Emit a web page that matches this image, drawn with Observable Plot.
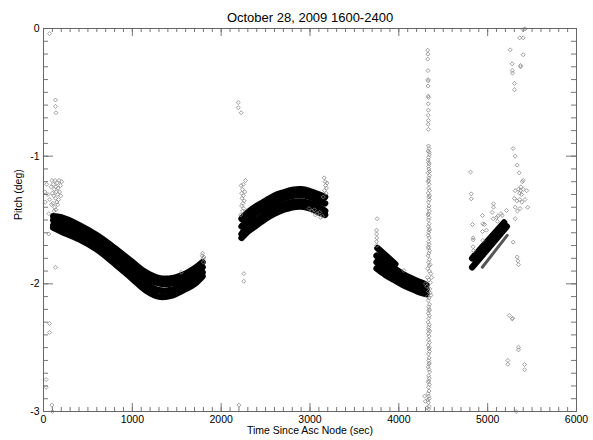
<!DOCTYPE html>
<html><head><meta charset="utf-8">
<script src="https://cdn.jsdelivr.net/npm/d3@7"></script>
<script src="https://cdn.jsdelivr.net/npm/@observablehq/plot@0.6"></script>
<style>body{margin:0;background:#fff} svg{display:block}</style>
</head><body><div id="chart"></div>
<script>
const title = "October 28, 2009 1600-2400";
const xLabel = "Time Since Asc Node (sec)";
const yLabel = "Pitch (deg)";
const xMajorTicks = [0, 1000, 2000, 3000, 4000, 5000, 6000];
const yMajorTicks = [0, -1, -2, -3];
const xTickLabels = ["0", "1000", "2000", "3000", "4000", "5000", "6000"];
const yTickLabels = ["0", "-1", "-2", "-3"];

// dense tracks (bands of overlapping samples)
const seg1TrackA = [[110,-1.47],[200,-1.48],[400,-1.54],[600,-1.62],[800,-1.72],[1000,-1.83],[1150,-1.91],[1300,-1.955],[1450,-1.955],[1600,-1.92],[1700,-1.88],[1790,-1.83]];
const seg1TrackB = [[110,-1.50],[200,-1.52],[400,-1.58],[600,-1.66],[800,-1.76],[1000,-1.87],[1150,-1.95],[1300,-1.995],[1450,-1.995],[1600,-1.96],[1700,-1.92],[1790,-1.87]];
const seg1TrackC = [[110,-1.54],[200,-1.56],[400,-1.62],[600,-1.70],[800,-1.80],[1000,-1.92],[1150,-2.00],[1300,-2.05],[1450,-2.045],[1600,-2.00],[1700,-1.96],[1790,-1.91]];
const seg1TrackD = [[110,-1.56],[200,-1.59],[400,-1.65],[600,-1.73],[800,-1.84],[1000,-1.96],[1150,-2.05],[1300,-2.10],[1450,-2.09],[1600,-2.04],[1700,-2.00],[1790,-1.94]];
const seg2TrackA = [[2230,-1.49],[2300,-1.44],[2400,-1.39],[2500,-1.35],[2600,-1.31],[2700,-1.285],[2800,-1.265],[2900,-1.26],[3000,-1.275],[3100,-1.30],[3170,-1.32]];
const seg2TrackB = [[2230,-1.55],[2300,-1.50],[2400,-1.44],[2500,-1.40],[2600,-1.36],[2700,-1.33],[2800,-1.31],[2900,-1.305],[3000,-1.32],[3100,-1.35],[3170,-1.37]];
const seg2TrackC = [[2230,-1.61],[2300,-1.55],[2400,-1.50],[2500,-1.45],[2600,-1.41],[2700,-1.38],[2800,-1.36],[2900,-1.355],[3000,-1.37],[3100,-1.40],[3170,-1.43]];
const seg2TrackD = [[2230,-1.64],[2300,-1.59],[2400,-1.54],[2500,-1.49],[2600,-1.45],[2700,-1.42],[2800,-1.40],[2900,-1.395],[3000,-1.41],[3100,-1.44],[3170,-1.46]];
const seg3TrackA = [[3750,-1.78],[3850,-1.83],[3950,-1.88],[4050,-1.925],[4150,-1.96],[4250,-1.99],[4310,-2.01]];
const seg3TrackB = [[3750,-1.83],[3850,-1.88],[3950,-1.92],[4050,-1.965],[4150,-2.00],[4250,-2.03],[4310,-2.045]];
const seg3TrackC = [[3750,-1.88],[3850,-1.93],[3950,-1.97],[4050,-2.01],[4150,-2.04],[4250,-2.07],[4310,-2.08]];
const seg3TrackE = [[3760,-1.72],[3960,-1.845]];
const seg4TrackA = [[4826,-1.80],[5185,-1.52]];
const seg4TrackB = [[4826,-1.87],[5215,-1.55]];
const seg4TrackC = [[4940,-1.87],[5220,-1.62]];

// sparse outlier samples
const scatterPoints = [
 [68,-0.04],[135,-0.56],[135,-0.61],[140,-0.66],
 [15,-1.28],[20,-1.36],[35,-1.22],[50,-1.30],[60,-1.45],[70,-1.34],[85,-1.24],[95,-1.19],[100,-1.29],[105,-1.37],[110,-1.22],[115,-1.31],[120,-1.26],[125,-1.40],[130,-1.19],[135,-1.33],[140,-1.24],[145,-1.28],[150,-1.36],[155,-1.21],[160,-1.30],[165,-1.25],[170,-1.34],[175,-1.19],[180,-1.28],[190,-1.23],[195,-1.31],[205,-1.20],[120,-1.43],[140,-1.42],[90,-1.38],[160,-1.38],
 [60,-1.61],[135,-1.87],[68,-2.31],[68,-2.38],[30,-2.75],[30,-2.81],[94,-2.95],[100,-3.0],
 [1550,-1.91],[1786,-1.78],[1792,-1.76],[1798,-1.80],[1805,-1.79],[1800,-1.83],
 [2192,-0.58],[2192,-0.62],[2225,-0.66],
 [2274,-1.19],[2225,-1.23],[2240,-1.26],[2230,-1.29],[2250,-1.31],[2235,-1.33],[2260,-1.35],[2245,-1.37],[2230,-1.39],[2255,-1.41],[2240,-1.43],[2265,-1.28],[2220,-1.46],[2250,-1.22],
 [2255,-1.92],[2255,-1.98],[2200,-2.95],
 [3160,-1.17],[3170,-1.20],[3175,-1.23],[3185,-1.25],[3165,-1.27],[3180,-1.29],[3190,-1.21],[3150,-1.32],
 [2990,-1.41],[3020,-1.43],[3050,-1.42],[3080,-1.45],[3110,-1.44],[3140,-1.47],[3060,-1.46],[3120,-1.48],
 [3756,-1.49],[3749,-1.58],[3749,-1.61],[3752,-1.64],[3749,-1.67],[3752,-1.70],[4056,-1.895],
 [4325,-0.17],[4327,-0.20],[4325,-0.24],[4327,-0.33],[4329,-0.40],[4331,-0.41],[4329,-0.45],[4331,-0.53],[4333,-0.54],[4331,-0.59],[4333,-0.64],[4331,-0.68],[4333,-0.72],[4331,-0.75],[4333,-0.79],
 [4334,-0.92],[4340,-0.94],[4330,-0.96],[4344,-0.99],[4336,-1.01],[4331,-1.03],[4342,-1.06],[4335,-1.08],[4339,-1.10],[4330,-1.13],[4345,-1.15],[4336,-1.17],[4332,-1.20],[4341,-1.22],[4335,-1.25],[4346,-1.27],[4331,-1.29],[4338,-1.32],[4343,-1.34],[4333,-1.36],[4340,-1.39],[4336,-1.41],[4344,-1.43],[4330,-1.46],[4339,-1.48],[4335,-1.50],[4342,-1.53],[4332,-1.55],[4346,-1.57],[4337,-1.60],[4331,-1.62],[4343,-1.64],[4336,-1.67],[4340,-1.69],[4333,-1.71],[4347,-1.74],[4338,-1.76],[4330,-1.78],[4344,-1.81],[4335,-1.83],[4352,-1.85],[4325,-1.88],[4345,-1.90],[4360,-1.92],[4320,-1.95],[4338,-1.97],[4355,-1.99],[4315,-2.02],[4348,-2.04],[4333,-2.06],[4362,-2.09],[4340,-2.11],[4330,-2.13],[4346,-2.16],[4336,-2.18],[4342,-2.20],[4332,-2.23],[4345,-2.25],[4338,-2.27],[4331,-2.30],[4343,-2.32],[4336,-2.34],[4347,-2.37],[4333,-2.39],[4340,-2.41],[4335,-2.44],[4344,-2.46],[4331,-2.48],[4339,-2.51],[4346,-2.53],[4334,-2.55],[4341,-2.58],[4336,-2.60],[4344,-2.62],[4332,-2.65],[4339,-2.67],[4347,-2.69],[4335,-2.72],[4342,-2.74],[4337,-2.76],[4345,-2.79],[4333,-2.81],[4340,-2.84],[4328,-2.86],[4336,-2.88],[4325,-2.91],[4332,-2.93],[4340,-2.96],[4335,-2.98],
 [4342,-0.97],[4335,-1.05],[4345,-1.12],[4334,-1.19],[4347,-1.31],[4333,-1.45],[4341,-1.58],[4334,-1.72],[4342,-1.86],[4370,-1.95],[4300,-2.00],[4352,-2.07],[4325,-2.10],[4340,-2.21],[4334,-2.36],[4344,-2.50],[4338,-2.63],[4332,-2.77],[4341,-2.90],[4318,-2.97],[4290,-2.88],[4298,-2.92],
 [4807,-1.125],[4815,-1.295],[4815,-1.334],[4829,-1.535],[4837,-1.64],[4837,-1.655],[4837,-1.71],[4842,-1.74],[4942,-1.465],[4946,-1.53],[4964,-1.535],[4942,-1.59],[4987,-1.58],[4946,-1.66],[5066,-1.373],[5065,-1.40],[5051,-1.44],[5062,-1.49],[5100,-1.48],[5110,-1.51],[5114,-1.47],[5150,-1.45],[5163,-1.465],[5212,-1.425],[5287,-1.674],[5332,-1.79],[5340,-1.82],[5347,-1.85],[5242,-2.248],[5276,-2.274],[5282,-2.27],[5227,-2.60],[5227,-2.63],[5347,-2.496],[5347,-2.517],[5415,-2.632],[5415,-2.673],[5320,-3.0],
 [5287,-0.94],[5310,-1.00],[5332,-1.07],[5355,-1.13],[5400,-1.19],[5390,-1.20],[5310,-1.27],[5345,-1.26],[5370,-1.27],[5400,-1.26],[5440,-1.27],[5300,-1.33],[5330,-1.35],[5360,-1.34],[5385,-1.36],[5420,-1.34],[5310,-1.40],[5335,-1.43],[5365,-1.41],[5450,-1.40],[5310,-1.49],[5380,-1.30],[5360,-1.29],[5375,-1.24],
 [5254,-0.167],[5276,-0.277],[5276,-0.329],[5280,-0.35],[5302,-0.43],[5302,-0.48],[5361,-0.073],[5400,-0.073],[5400,-0.008],[5423,-0.002],[5370,-0.29],[5370,-0.30],[5400,-0.206]
];

const W = 593, H = 440;
const mL = 43, mR = 17, mT = 28, mB = 29;
const fw = W - mL - mR, fh = H - mT - mB;
const font = "'Liberation Sans', Arial, Helvetica, sans-serif";

const blackTracks = [seg1TrackA, seg1TrackB, seg1TrackC, seg1TrackD, seg2TrackA, seg2TrackB, seg2TrackC, seg2TrackD, seg3TrackA, seg3TrackB, seg3TrackC, seg3TrackE, seg4TrackA, seg4TrackB];
const grayTracks = [seg4TrackC];

const xMinor = d3.range(0, 6001, 100);
const yMinor = d3.range(0, 31).map(i => -i / 10);

const tickColor = "#777";
const marks = [
  ...blackTracks.map(t => Plot.line(t, {x: d => d[0], y: d => d[1], stroke: "#000", strokeWidth: 6.5, curve: "catmull-rom", strokeLinecap: "round"})),
  ...grayTracks.map(t => Plot.line(t, {x: d => d[0], y: d => d[1], stroke: "#555", strokeWidth: 3, curve: "catmull-rom"})),
  Plot.dot(scatterPoints, {x: d => d[0], y: d => d[1], symbol: "diamond2", r: 1.8, stroke: "#888", strokeWidth: 0.8}),
  // ticks
  Plot.ruleX(xMinor, {x: d => d, insetTop: fh - 4, stroke: tickColor}),
  Plot.ruleX(xMinor, {x: d => d, insetBottom: fh - 4, stroke: tickColor}),
  Plot.ruleX(xMajorTicks, {x: d => d, insetTop: fh - 8, stroke: tickColor}),
  Plot.ruleX(xMajorTicks, {x: d => d, insetBottom: fh - 8, stroke: tickColor}),
  Plot.ruleY(yMinor, {y: d => d, insetRight: fw - 5, stroke: tickColor}),
  Plot.ruleY(yMinor, {y: d => d, insetLeft: fw - 5, stroke: tickColor}),
  Plot.ruleY(yMajorTicks, {y: d => d, insetRight: fw - 10, stroke: tickColor}),
  Plot.ruleY(yMajorTicks, {y: d => d, insetLeft: fw - 10, stroke: tickColor}),
  Plot.frame({stroke: "#666"}),
  // labels
  Plot.text(xMajorTicks, {x: d => d, frameAnchor: "bottom", dy: 11, text: (d, i) => xTickLabels[i], fontSize: 10.5, fill: "#000"}),
  Plot.text(yMajorTicks, {y: d => d, frameAnchor: "left", dx: -4, textAnchor: "end", text: (d, i) => yTickLabels[i], fontSize: 10.5, fill: "#000"}),
  Plot.text([xLabel], {frameAnchor: "bottom", dy: 22, text: d => d, fontSize: 10.5, fill: "#000"}),
  Plot.text([yLabel], {frameAnchor: "left", dx: -25, rotate: -90, text: d => d, fontSize: 10.5, fill: "#000"}),
  Plot.text([title], {frameAnchor: "top", dy: -16, text: d => d, fontSize: 13, fill: "#000"})
];

const chart = Plot.plot({
  width: W, height: H,
  marginLeft: mL, marginRight: mR, marginTop: mT, marginBottom: mB,
  x: {domain: [0, 6000], axis: null},
  y: {domain: [-3, 0], axis: null},
  style: {fontFamily: font, background: "#fff"},
  marks
});
document.getElementById("chart").appendChild(chart);
</script>
</body></html>
